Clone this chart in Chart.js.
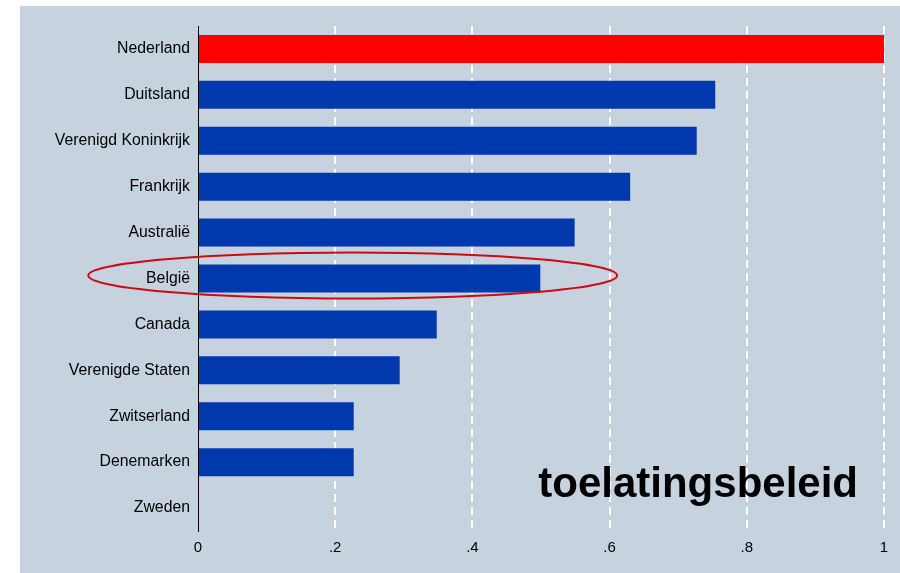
<!DOCTYPE html>
<html>
<head>
<meta charset="utf-8">
<script src="https://cdn.jsdelivr.net/npm/chart.js@4"></script>
<style>
  html, body { margin: 0; padding: 0; background: #ffffff; }
  #panel { position: absolute; left: 20px; top: 6px; width: 880px; height: 567px; background: #c6d3df; }
</style>
</head>
<body>
<div id="panel"><canvas id="myChart" width="880" height="567"></canvas></div>
<script>
// DATA
const countries = ['Nederland', 'Duitsland', 'Verenigd Koninkrijk', 'Frankrijk', 'Australië', 'België',
  'Canada', 'Verenigde Staten', 'Zwitserland', 'Denemarken', 'Zweden'];
const scores = [1.0, 0.754, 0.727, 0.630, 0.549, 0.499, 0.348, 0.294, 0.227, 0.227, 0];
const xTickLabels = ['0', '.2', '.4', '.6', '.8', '1'];
const highlightCountry = 'België';
const captionText = 'toelatingsbeleid';

const barColors = countries.map((c, i) => i === 0 ? '#ff0000' : '#0039ad');

// ellipse + caption drawn on top of the bars
const overlayPlugin = {
  id: 'overlay',
  afterDatasetsDraw(chart) {
    const ctx = chart.ctx;
    const x = chart.scales.x;
    const y = chart.scales.y;
    const area = chart.chartArea;

    // red ellipse round Belgie
    const idx = countries.indexOf(highlightCountry);
    const left = x.getPixelForValue(-0.16);
    const right = x.getPixelForValue(0.611);
    const cy = y.getPixelForValue(idx) - 3;
    ctx.save();
    ctx.beginPath();
    ctx.ellipse((left + right) / 2, cy, (right - left) / 2, 23, 0, 0, Math.PI * 2);
    ctx.strokeStyle = '#cc0a14';
    ctx.lineWidth = 2;
    ctx.stroke();

    // caption
    ctx.font = 'bold 42px "Liberation Sans", Arial, sans-serif';
    ctx.fillStyle = '#000000';
    ctx.textAlign = 'right';
    ctx.textBaseline = 'alphabetic';
    ctx.fillText(captionText, area.right - 26, area.bottom - 34);
    ctx.restore();
  }
};

const config = {
  type: 'bar',
  data: {
    labels: countries,
    datasets: [{
      data: scores,
      backgroundColor: barColors,
      borderWidth: 0,
      categoryPercentage: 1,
      barPercentage: 0.61
    }]
  },
  options: {
    indexAxis: 'y',
    responsive: false,
    animation: false,
    devicePixelRatio: 1,
    layout: {
      padding: { left: 0, right: 16, top: 20, bottom: 0 }
    },
    plugins: {
      legend: { display: false },
      tooltip: { enabled: false }
    },
    scales: {
      x: {
        min: 0,
        max: 1,
        ticks: {
          stepSize: 0.2,
          padding: 8,
          color: '#000000',
          font: { family: '"Liberation Sans", Arial, sans-serif', size: 15 },
          maxRotation: 0,
          callback: (v, i) => xTickLabels[i]
        },
        grid: {
          drawTicks: false,
          lineWidth: 2,
          color: (c) => c.tick && c.tick.value === 0 ? 'rgba(0,0,0,0)' : '#ffffff'
        },
        border: { display: false, dash: [8, 5] },
        afterFit: (scale) => { scale.height = 42; }
      },
      y: {
        ticks: {
          padding: 8,
          color: '#000000',
          font: { family: '"Liberation Sans", Arial, sans-serif', size: 15.8 }
        },
        grid: { display: false, drawTicks: false },
        border: { display: true, color: '#000000', width: 1 },
        afterFit: (scale) => { scale.width = 178; }
      }
    }
  },
  plugins: [overlayPlugin]
};

const myChart = new Chart(document.getElementById('myChart'), config);
</script>
</body>
</html>
